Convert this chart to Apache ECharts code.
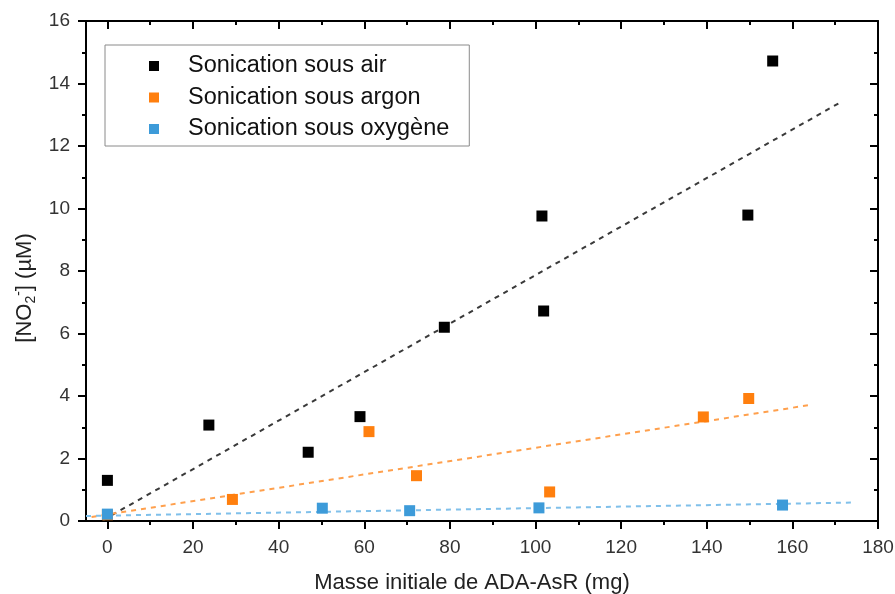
<!DOCTYPE html>
<html>
<head>
<meta charset="utf-8">
<script src="https://cdn.jsdelivr.net/npm/echarts@6/dist/echarts.min.js"></script>
<style>html,body{margin:0;padding:0;background:#fff}#c{width:895px;height:594px}</style>
</head>
<body>
<div id="c"></div>
<script>
// ---- data ----
const seriesNames = ['Sonication sous air', 'Sonication sous argon', 'Sonication sous oxygène'];
const airPoints = [[0,1.3],[23.7,3.07],[46.9,2.2],[59,3.34],[78.7,6.2],[101.5,9.76],[101.9,6.72],[149.6,9.79],[155.4,14.72]];
const argonPoints = [[0,0.2],[29.2,0.69],[61.1,2.86],[72.2,1.45],[103.3,0.93],[139.2,3.33],[149.8,3.92]];
const oxygenPoints = [[0,0.22],[50.2,0.41],[70.6,0.33],[100.8,0.42],[157.7,0.51]];
const airFit = [[-1,0.03],[171,13.38]];
const argonFit = [[-3.7,0.13],[164,3.71]];
const oxygenFit = [[-5,0.16],[174,0.59]];
const xTicks = [0,20,40,60,80,100,120,140,160,180];
const xMinorTicks = [10,30,50,70,90,110,130,150,170];
const xTitle = 'Masse initiale de ADA-AsR (mg)';
const yTitle = '{b|[NO}{sub|2}{sup|-}{b|] (µM)}';

const FONT = "'Liberation Sans', Arial, sans-serif";
const colors = ['#000000', '#ff7f0e', '#3d9bd9'];
const fitColors = ['#3a3a3a', '#ffa04d', '#80c0ea'];

const axisLineStyle = {color:'#000', width:2};
const chart = echarts.init(document.getElementById('c'));

function xAxisDef(pos, ticks, len, labels, line) {
  return {
    type:'value', position:pos, min:-5, max:180,
    axisLine:{show:line, onZero:false, lineStyle:axisLineStyle},
    axisTick:{show:true, inside:pos==='top', length:len, customValues:ticks, lineStyle:{color:'#000', width:2}},
    axisLabel:{show:labels, customValues:ticks, margin:17, fontSize:19, color:'#333', fontFamily:FONT},
    splitLine:{show:false}
  };
}

const option = {
  animation:false,
  backgroundColor:'#fff',
  grid:{left:86, right:17, top:21, bottom:73, outerBoundsMode:'none', containLabel:false},
  legend:{
    orient:'vertical', left:105, top:45,
    data:seriesNames,
    icon:'rect', itemWidth:10, itemHeight:10, itemGap:7.5,
    padding:[9,20,5,44],
    borderColor:'#8a8a8a', borderWidth:1, backgroundColor:'#fff',
    textStyle:{fontSize:23.5, lineHeight:23, color:'#111', fontFamily:FONT, padding:[0,0,0,24]}
  },
  xAxis:[
    Object.assign(xAxisDef('bottom', xTicks, 8, true, true), {
      name:xTitle, nameLocation:'middle', nameGap:51,
      nameTextStyle:{fontSize:22, color:'#222', fontFamily:FONT, padding:[0,20,0,0]}
    }),
    xAxisDef('bottom', xMinorTicks, 4, false, false),
    xAxisDef('top', xTicks, 8, false, true),
    xAxisDef('top', xMinorTicks, 4, false, false)
  ],
  yAxis:[
    {
      type:'value', position:'left', min:0, max:16, interval:2,
      name:yTitle, nameLocation:'middle', nameGap:48,
      nameTextStyle:{fontFamily:FONT, color:'#222', padding:[0,34,0,0],
        rich:{
          b:{fontSize:22, fontFamily:FONT, color:'#222', lineHeight:26, verticalAlign:'middle'},
          sub:{fontSize:14, fontFamily:FONT, color:'#222', lineHeight:13, verticalAlign:'bottom'},
          sup:{fontSize:14, fontFamily:FONT, color:'#222', lineHeight:13, verticalAlign:'top'}
        }},
      axisLine:{show:true, onZero:false, lineStyle:axisLineStyle},
      axisTick:{show:true, inside:false, length:8, lineStyle:{color:'#000', width:2}},
      minorTick:{show:true, splitNumber:2, length:4, lineStyle:{color:'#000', width:2}},
      axisLabel:{margin:16, fontSize:19, color:'#333', fontFamily:FONT},
      splitLine:{show:false}, minorSplitLine:{show:false}
    },
    {
      type:'value', position:'right', min:0, max:16, interval:2,
      axisLine:{show:true, onZero:false, lineStyle:axisLineStyle},
      axisTick:{show:true, inside:true, length:8, lineStyle:{color:'#000', width:2}},
      minorTick:{show:true, splitNumber:2, length:4, lineStyle:{color:'#000', width:2}},
      axisLabel:{show:false},
      splitLine:{show:false}, minorSplitLine:{show:false}
    }
  ],
  series:[
    {type:'line', name:'fit-air', data:airFit, showSymbol:false, silent:true, z:1,
      lineStyle:{color:fitColors[0], width:2, type:[5,5]}},
    {type:'line', name:'fit-argon', data:argonFit, showSymbol:false, silent:true, z:1,
      lineStyle:{color:fitColors[1], width:2, type:[5,5]}},
    {type:'line', name:'fit-oxygen', data:oxygenFit, showSymbol:false, silent:true, z:1,
      lineStyle:{color:fitColors[2], width:2, type:[5,5]}},
    {type:'scatter', name:seriesNames[0], data:airPoints, symbol:'rect', symbolSize:11, z:3,
      itemStyle:{color:colors[0], opacity:1}},
    {type:'scatter', name:seriesNames[1], data:argonPoints, symbol:'rect', symbolSize:11, z:3,
      itemStyle:{color:colors[1], opacity:1}},
    {type:'scatter', name:seriesNames[2], data:oxygenPoints, symbol:'rect', symbolSize:11, z:3,
      itemStyle:{color:colors[2], opacity:1}}
  ]
};
chart.setOption(option);
</script>
</body>
</html>
